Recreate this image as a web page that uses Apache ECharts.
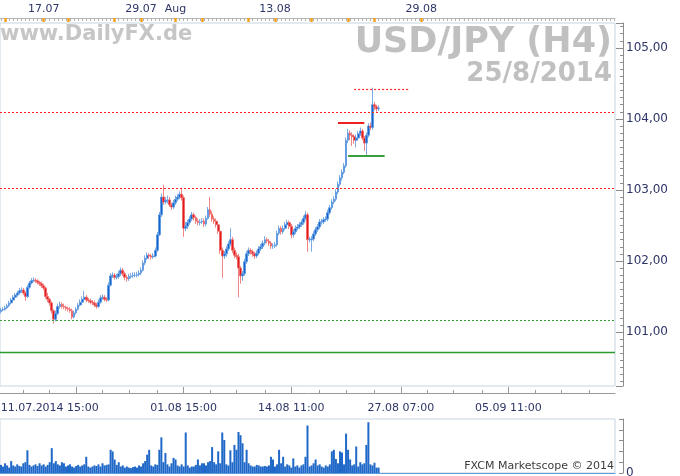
<!DOCTYPE html>
<html><head><meta charset="utf-8">
<script src="https://cdn.jsdelivr.net/npm/echarts@6/dist/echarts.min.js"></script>
<style>html,body{margin:0;padding:0;background:#fff}#c{width:680px;height:476px}</style>
</head><body><div id="c"></div>
<script>
const opens = [101.29,101.31,101.32,101.34,101.37,101.41,101.45,101.49,101.52,101.55,
101.58,101.59,101.55,101.50,101.63,101.69,101.72,101.73,101.72,101.70,
101.68,101.65,101.62,101.50,101.46,101.41,101.30,101.18,101.26,101.36,
101.39,101.36,101.35,101.33,101.32,101.30,101.21,101.27,101.32,101.38,
101.42,101.46,101.49,101.45,101.44,101.42,101.41,101.38,101.36,101.42,
101.48,101.49,101.46,101.45,101.66,101.79,101.80,101.77,101.78,101.82,
101.87,101.82,101.77,101.75,101.78,101.79,101.80,101.80,101.81,101.83,
101.87,101.97,102.04,102.08,102.07,102.06,102.07,102.15,102.37,102.65,
102.90,102.83,102.85,102.86,102.79,102.76,102.82,102.87,102.90,102.94,
102.89,102.46,102.49,102.54,102.59,102.65,102.61,102.56,102.54,102.55,
102.56,102.52,102.60,102.72,102.66,102.59,102.56,102.51,102.42,102.15,
102.07,102.10,102.17,102.24,102.30,102.15,102.08,102.06,101.90,101.79,
101.82,101.99,102.10,102.15,102.13,102.10,102.07,102.11,102.17,102.20,
102.25,102.30,102.28,102.25,102.21,102.21,102.23,102.39,102.46,102.41,
102.46,102.51,102.54,102.49,102.37,102.41,102.46,102.48,102.51,102.54,
102.60,102.65,102.30,102.30,102.31,102.38,102.44,102.48,102.55,102.55,
102.58,102.59,102.68,102.75,102.83,102.87,102.97,103.08,103.17,103.25,
103.34,103.70,103.80,103.77,103.75,103.70,103.73,103.79,103.83,103.73,
103.66,103.77,103.90,103.88,104.20,104.17,104.14];
const closes = [101.31,101.32,101.34,101.37,101.41,101.45,101.49,101.52,101.55,101.58,
101.59,101.55,101.50,101.63,101.69,101.72,101.73,101.72,101.70,101.68,
101.65,101.62,101.50,101.46,101.41,101.30,101.18,101.26,101.36,101.39,
101.36,101.35,101.33,101.32,101.30,101.21,101.27,101.32,101.38,101.42,
101.46,101.49,101.45,101.44,101.42,101.41,101.38,101.36,101.42,101.48,
101.49,101.46,101.45,101.66,101.79,101.80,101.77,101.78,101.82,101.87,
101.82,101.77,101.75,101.78,101.79,101.80,101.80,101.81,101.83,101.87,
101.97,102.04,102.08,102.07,102.06,102.07,102.15,102.37,102.65,102.90,
102.83,102.85,102.86,102.79,102.76,102.82,102.87,102.90,102.94,102.89,
102.46,102.49,102.54,102.59,102.65,102.61,102.56,102.54,102.55,102.56,
102.52,102.60,102.72,102.66,102.59,102.56,102.51,102.42,102.15,102.07,
102.10,102.17,102.24,102.30,102.15,102.08,102.06,101.90,101.79,101.82,
101.99,102.10,102.15,102.13,102.10,102.07,102.11,102.17,102.20,102.25,
102.30,102.28,102.25,102.21,102.21,102.23,102.39,102.46,102.41,102.46,
102.51,102.54,102.49,102.37,102.41,102.46,102.48,102.51,102.54,102.60,
102.65,102.30,102.30,102.31,102.38,102.44,102.48,102.55,102.55,102.58,
102.59,102.68,102.75,102.83,102.87,102.97,103.08,103.17,103.25,103.34,
103.70,103.80,103.77,103.75,103.70,103.73,103.79,103.83,103.73,103.66,
103.77,103.90,103.88,104.20,104.17,104.14,104.15];
const highs = [101.34,101.35,101.37,101.40,101.44,101.48,101.52,101.55,101.58,101.62,
101.63,101.62,101.57,101.66,101.72,101.76,101.77,101.76,101.74,101.72,
101.71,101.68,101.64,101.55,101.48,101.43,101.32,101.30,101.40,101.43,
101.42,101.40,101.37,101.36,101.35,101.33,101.30,101.35,101.41,101.46,
101.50,101.58,101.52,101.48,101.47,101.45,101.44,101.41,101.46,101.52,
101.53,101.52,101.49,101.70,101.83,101.84,101.83,101.82,101.86,101.91,
101.90,101.85,101.80,101.82,101.83,101.84,101.84,101.85,101.87,101.91,
102.01,102.08,102.12,102.11,102.10,102.11,102.19,102.41,102.69,102.95,
103.07,102.90,102.92,102.90,102.82,102.86,102.92,102.94,102.98,103.03,
102.92,102.55,102.58,102.63,102.69,102.68,102.64,102.60,102.59,102.60,
102.60,102.64,102.76,102.90,102.70,102.63,102.60,102.55,102.45,102.19,
102.14,102.21,102.28,102.46,102.34,102.19,102.12,102.10,101.93,101.86,
102.03,102.14,102.19,102.18,102.16,102.13,102.15,102.21,102.24,102.29,
102.35,102.33,102.31,102.28,102.25,102.27,102.43,102.50,102.49,102.50,
102.55,102.58,102.57,102.52,102.45,102.50,102.52,102.55,102.58,102.64,
102.70,102.68,102.34,102.35,102.42,102.48,102.52,102.59,102.59,102.62,
102.63,102.72,102.79,102.87,102.91,103.01,103.12,103.21,103.29,103.38,
103.74,103.86,103.84,103.81,103.78,103.78,103.83,103.88,103.86,103.76,
103.81,103.94,103.95,104.44,104.24,104.20,104.19];
const lows = [101.26,101.29,101.30,101.32,101.35,101.39,101.43,101.46,101.50,101.53,
101.55,101.52,101.44,101.48,101.61,101.67,101.70,101.69,101.67,101.65,
101.62,101.59,101.47,101.42,101.37,101.26,101.12,101.15,101.24,101.33,
101.33,101.32,101.30,101.29,101.27,101.18,101.19,101.25,101.30,101.36,
101.40,101.44,101.42,101.41,101.39,101.38,101.35,101.33,101.34,101.40,
101.45,101.43,101.42,101.43,101.64,101.76,101.74,101.74,101.75,101.79,
101.79,101.73,101.71,101.72,101.75,101.76,101.77,101.77,101.78,101.80,
101.85,101.94,102.01,102.03,102.02,102.03,102.05,102.13,102.35,102.62,
102.79,102.80,102.81,102.76,102.72,102.73,102.79,102.84,102.87,102.85,
102.34,102.42,102.45,102.51,102.56,102.57,102.52,102.50,102.50,102.52,
102.48,102.49,102.58,102.62,102.55,102.52,102.47,102.38,102.10,101.76,
102.03,102.06,102.14,102.21,102.11,102.04,102.02,101.49,101.68,101.72,
101.79,101.96,102.07,102.09,102.06,102.03,102.04,102.08,102.14,102.17,
102.22,102.25,102.21,102.17,102.17,102.18,102.20,102.36,102.37,102.38,
102.43,102.48,102.45,102.32,102.33,102.38,102.43,102.45,102.48,102.51,
102.57,102.13,102.26,102.13,102.28,102.35,102.41,102.45,102.51,102.52,
102.55,102.56,102.65,102.72,102.80,102.84,102.94,103.05,103.13,103.22,
103.31,103.66,103.70,103.62,103.65,103.60,103.70,103.76,103.70,103.55,
103.48,103.74,103.84,103.85,104.12,104.10,104.11];
const volumes = [15,12,18,14,10,22,14,12,16,13,
12,18,20,42,15,12,14,16,13,18,
14,16,12,15,20,46,18,22,16,14,
20,18,12,14,16,12,10,13,15,12,
14,16,30,12,10,12,14,13,16,12,
18,14,15,16,43,40,25,15,20,12,
14,10,12,10,9,11,12,10,14,12,
18,22,34,43,14,12,16,15,43,66,
20,37,16,12,18,28,25,14,12,16,
12,75,14,10,12,12,15,25,14,18,
18,14,20,22,48,20,16,40,18,75,
61,16,14,42,20,52,43,76,70,55,
20,43,18,14,12,12,15,14,12,12,
13,12,14,30,25,12,16,43,18,30,
12,16,14,10,27,12,14,10,14,16,
30,88,12,14,18,25,14,16,12,10,
14,12,16,40,43,26,18,40,38,16,
73,43,25,14,16,49,12,20,16,18,
52,94,16,14,19,10,10];

const totalSlots = 303;
const bottomLabels = ['11.07.2014 15:00','01.08 15:00','14.08 11:00','27.08 07:00','05.09 11:00'];
const bottomLabelIdx = [24, 90, 143, 197, 250];
const bottomTickIdx = [37, 90, 143, 197, 250];
const bottomMinorIdx = [11, 24, 50, 63, 77, 103, 116, 130, 157, 170, 184, 210, 223, 237, 263, 276, 290];
const topLabels = ['17.07','29.07','Aug','13.08','29.08'];
const topLabelIdx = [21, 69, 86, 135, 207];
const topMarkerIdx = [2, 21, 33, 56, 69, 86, 99, 122, 135, 153, 171, 184, 207];
const fullLines = [
  {value: 104.10, color: '#ff2020', type: [2, 2], width: 1.2},
  {value: 103.02, color: '#ff2020', type: [2, 2], width: 1.2},
  {value: 101.17, color: '#36a336', type: [2, 2], width: 1.2},
  {value: 100.72, color: '#2c9a2c', type: 'solid', width: 1.4}
];
const shortLines = [
  {from: 174, to: 201, value: 104.42, color: '#ff2020', type: [2, 2], width: 1.2},
  {from: 166, to: 179, value: 103.95, color: '#ee2020', type: 'solid', width: 2},
  {from: 171, to: 189, value: 103.48, color: '#3a9e3a', type: 'solid', width: 2}
];
const lastPrice = 104.152;
const priceMin = 100.24, priceMax = 105.35;

const cats = [];
for (let i = 0; i < totalSlots; i++) cats.push(String(i));
const candleData = opens.map((o, i) => [o, closes[i], lows[i], highs[i]]);
const labelColor = '#2e3568';
const font = 'DejaVu Sans';

const markData = [];
fullLines.forEach(l => markData.push({yAxis: l.value, lineStyle: {color: l.color, type: l.type, width: l.width}, label: {show: false}}));
shortLines.forEach(l => markData.push([
  {coord: [l.from, l.value], lineStyle: {color: l.color, type: l.type, width: l.width}, label: {show: false}},
  {coord: [l.to, l.value], lineStyle: {color: l.color, type: l.type, width: l.width}}
]));
markData.push({yAxis: lastPrice, lineStyle: {opacity: 0}, label: {show: true, position: 'end', distance: 7,
  formatter: lastPrice.toFixed(3).replace('.', ','), backgroundColor: '#62c3f5', color: '#111', padding: [1, 3, 0, 3],
  fontSize: 12, fontFamily: font}});

const chart = echarts.init(document.getElementById('c'));
chart.setOption({
  animation: false,
  backgroundColor: '#fff',
  grid: [
    {left: 0, right: 65, top: 23, bottom: 90, show: true, borderColor: '#c6d3e0', borderWidth: 1, containLabel: false, outerBoundsMode: 'none'},
    {left: 0, right: 65, top: 419, bottom: 3, show: true, borderColor: '#c6d3e0', borderWidth: 1, containLabel: false, outerBoundsMode: 'none'}
  ],
  xAxis: [
    {type: 'category', gridIndex: 0, data: cats, position: 'bottom', offset: 7, boundaryGap: true,
      axisLine: {show: true, lineStyle: {color: '#9a9a9a'}},
      axisTick: {show: true, inside: true, length: 6, alignWithLabel: true, interval: (i) => bottomTickIdx.includes(i), lineStyle: {color: '#9a9a9a'}},
      axisLabel: {show: true, interval: (i) => bottomLabelIdx.includes(i), formatter: (v, i) => { const k = bottomLabelIdx.indexOf(i); return k >= 0 ? bottomLabels[k] : ''; },
        margin: 10, fontSize: 11, color: labelColor, fontFamily: font},
      splitLine: {show: false}},
    {type: 'category', gridIndex: 0, data: cats, position: 'bottom', offset: 7, boundaryGap: true,
      axisLine: {show: false},
      axisTick: {show: true, inside: true, length: 3, alignWithLabel: true, interval: (i) => bottomMinorIdx.includes(i), lineStyle: {color: '#9a9a9a'}},
      axisLabel: {show: false}, splitLine: {show: false}},
    {type: 'category', gridIndex: 0, data: cats, position: 'top', offset: 5, boundaryGap: true,
      axisLine: {show: true, lineStyle: {color: '#b5b5b5'}},
      axisTick: {show: true, inside: true, length: 3, alignWithLabel: true, interval: (i) => i % 2 === 0, lineStyle: {color: '#b0b0b0'}},
      axisLabel: {show: true, interval: (i) => topLabelIdx.includes(i), formatter: (v, i) => { const k = topLabelIdx.indexOf(i); return k >= 0 ? topLabels[k] : ''; },
        margin: 3, fontSize: 11, color: labelColor, fontFamily: font},
      splitLine: {show: false}},
    {type: 'category', gridIndex: 0, data: cats, position: 'top', offset: 5, boundaryGap: true,
      axisLine: {show: false},
      axisTick: {show: true, inside: true, length: 4, alignWithLabel: true, interval: (i) => topMarkerIdx.includes(i), lineStyle: {color: '#f3a01c', width: 2.5}},
      axisLabel: {show: false}, splitLine: {show: false}},
    {type: 'category', gridIndex: 1, data: cats, position: 'bottom', boundaryGap: true,
      axisLine: {show: true, lineStyle: {color: '#5d9ddb'}},
      axisTick: {show: false}, axisLabel: {show: false}, splitLine: {show: false}}
  ],
  yAxis: [
    {type: 'value', gridIndex: 0, position: 'right', offset: 8, min: priceMin, max: priceMax, splitNumber: 5,
      axisLine: {show: true, lineStyle: {color: '#8c8c8c'}},
      axisTick: {show: true, inside: true, length: 7, lineStyle: {color: '#8c8c8c'}},
      minorTick: {show: true, splitNumber: 10, length: 3, lineStyle: {color: '#8c8c8c'}},
      splitLine: {show: false},
      axisLabel: {showMinLabel: false, showMaxLabel: false, margin: 3, fontSize: 12, color: labelColor, fontFamily: font,
        formatter: (v) => v.toFixed(2).replace('.', ',')}},
    {type: 'value', gridIndex: 1, position: 'right', offset: 8, min: 0, max: 100, interval: 20,
      axisLine: {show: true, lineStyle: {color: '#8c8c8c'}},
      axisTick: {show: true, inside: true, length: 4, lineStyle: {color: '#8c8c8c'}},
      splitLine: {show: false},
      axisLabel: {margin: 3, fontSize: 12, color: labelColor, fontFamily: font, formatter: (v) => v === 0 ? '0' : ''}}
  ],
  series: [
    {type: 'candlestick', xAxisIndex: 0, yAxisIndex: 0, data: candleData, barWidth: 2.2,
      itemStyle: {color: '#1663cc', color0: '#e41a1a', borderColor: '#5a97df', borderColor0: '#ef6464', borderWidth: 0.8}},
    {type: 'bar', xAxisIndex: 4, yAxisIndex: 1, data: volumes, barWidth: 2,
      itemStyle: {color: '#1f68c8'}},
    {type: 'line', xAxisIndex: 0, yAxisIndex: 0, data: [], silent: true,
      markLine: {silent: true, symbol: ['none', 'none'], animation: false, data: markData}}
  ],
  graphic: [
    {type: 'text', x: 0, y: 35, z: 10, style: {text: 'www.DailyFX.de', font: 'bold 21px "DejaVu Sans"', fill: '#c6c6c6', textAlign: 'left', textVerticalAlign: 'middle', align: 'left', verticalAlign: 'middle'}},
    {type: 'text', x: 612, y: 43, z: 10, style: {text: 'USD/JPY (H4)', font: 'bold 35px "DejaVu Sans"', fill: '#c0c0c0', textAlign: 'right', textVerticalAlign: 'middle', align: 'right', verticalAlign: 'middle'}},
    {type: 'text', x: 612, y: 74, z: 10, style: {text: '25/8/2014', font: 'bold 26px "DejaVu Sans"', fill: '#c0c0c0', textAlign: 'right', textVerticalAlign: 'middle', align: 'right', verticalAlign: 'middle'}},
    {type: 'text', x: 614, y: 466, z: 10, style: {text: 'FXCM Marketscope © 2014', font: '11px "DejaVu Sans"', fill: '#3c3c3c', textAlign: 'right', textVerticalAlign: 'middle', align: 'right', verticalAlign: 'middle'}}
  ]
});
</script>
</body></html>
